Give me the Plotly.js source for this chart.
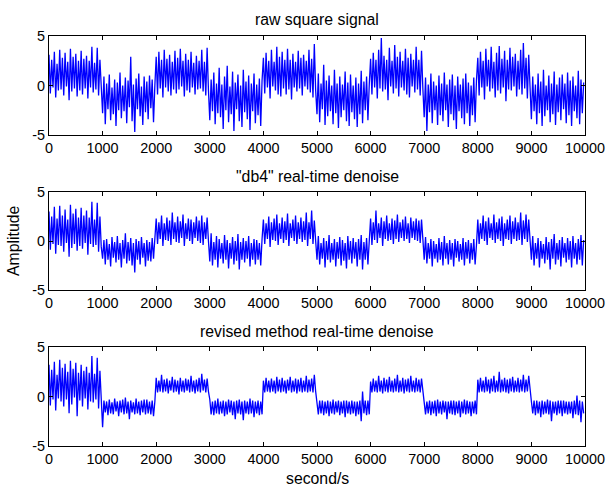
<!DOCTYPE html>
<html>
<head>
<meta charset="utf-8">
<script src="https://cdn.plot.ly/plotly-3.0.1.min.js"></script>
<style>html,body{margin:0;padding:0;background:#fff;}#chart{width:609px;height:491px;}</style>
</head>
<body>
<div id="chart"></div>
<script>
// ---- data (one sample every 25 s) ----
var sampleInterval = 25;
var xTicks = [0,1000,2000,3000,4000,5000,6000,7000,8000,9000,10000];
var yTicks = [-5,0,5];
var titles = ['raw square signal', '"db4" real-time denoise', 'revised method real-time denoise'];
var xLabel = 'second/s';
var yLabel = 'Amplitude';

var rawSignal = [
 3.1,-0.8,2.6,-0.2,3.4,-1.2,2.2,-0.5,3.6,-0.4,2.8,-1.0,3.3,-0.1,2.4,-1.5,3.7,-0.6,2.9,-0.3,3.2,-1.1,2.5,-0.5,3.5,-0.9,2.7,-0.3,3.0,-1.3,2.5,-0.2,3.9,-0.7,2.3,-0.4,3.8,-1.0,2.6,-0.6,
 -2.8,0.9,-3.9,0.2,-2.4,1.1,-3.5,-0.2,-2.9,0.6,-4.1,0.3,-2.5,1.3,-3.3,0.0,-2.6,0.8,-3.8,0.5,-2.2,2.9,-3.6,0.1,-4.7,0.7,-2.4,1.2,-3.1,-0.1,-4.0,0.9,-2.7,0.4,-3.4,1.0,-2.3,0.6,-3.7,0.0,
 2.9,-0.9,3.4,-0.3,2.6,-1.2,3.6,-0.2,2.7,-0.6,3.1,-1.0,2.4,-0.4,3.5,-0.8,2.8,-0.4,3.7,-0.1,2.5,-1.1,3.2,-0.5,2.6,-0.7,3.4,-0.2,2.3,-0.9,3.0,-0.4,2.5,-0.3,3.6,-0.6,2.4,-1.0,3.8,-0.5,
 -3.5,0.6,-2.6,1.3,-3.9,0.2,-2.8,1.8,-3.2,0.1,-4.4,0.9,-2.5,2.0,-3.7,-0.1,-2.9,1.4,-4.6,0.3,-2.4,1.1,-3.6,0.0,-4.2,1.6,-2.7,0.4,-3.4,1.0,-4.5,0.2,-2.6,1.2,-3.8,0.1,-3.0,0.7,-4.1,0.5,
 2.8,-0.8,3.3,-0.2,2.5,-1.3,3.6,-0.1,2.4,-0.5,3.9,-0.9,2.9,-1.1,3.4,-0.3,2.6,-0.9,3.7,-0.4,2.6,-1.4,3.2,-0.2,2.4,-0.6,3.5,-0.3,2.8,-1.0,3.1,-0.1,2.5,-0.4,3.6,-0.7,2.7,-1.2,4.2,-0.5,
 -2.9,1.2,-3.7,0.2,-2.4,2.1,-4.0,0.5,-3.1,1.0,-2.6,0.0,-3.9,1.6,-2.8,0.2,-4.3,0.9,-3.2,0.1,-2.5,1.4,-3.6,0.3,-4.1,1.1,-2.7,0.0,-3.4,0.8,-4.2,0.2,-2.9,1.5,-3.8,0.4,-2.5,0.9,-3.5,0.1,
 2.7,-0.9,3.3,-0.2,2.6,-1.3,3.6,-0.3,4.8,-0.6,3.0,-0.4,2.6,-1.5,3.8,-0.1,2.5,-0.8,4.1,-0.3,2.9,-1.1,3.4,-0.2,2.5,-0.5,3.7,-0.9,2.8,-1.2,3.2,-0.1,2.6,-0.7,3.9,-0.4,2.6,-1.0,3.5,-0.3,
 -3.2,0.8,-4.6,0.1,-2.7,1.2,-3.8,0.4,-2.5,0.0,-4.0,1.0,-3.0,0.2,-3.6,1.3,-2.5,0.1,-4.2,0.6,-2.9,1.1,-3.5,0.0,-4.4,0.9,-2.6,0.1,-3.3,0.7,-3.9,1.2,-2.8,0.3,-4.1,0.0,-3.0,0.8,-3.7,0.5,
 2.8,-1.0,3.4,-0.2,2.5,-1.4,3.7,-0.1,2.6,-0.6,3.9,-0.3,2.4,-1.2,3.3,-0.5,4.0,-0.8,2.7,-0.2,3.5,-1.6,2.6,-0.4,3.8,-0.5,2.9,-0.1,3.2,-1.1,2.5,-0.4,3.6,-0.9,4.3,-0.3,2.8,-1.3,3.1,-0.2,
 -3.4,0.9,-2.6,0.1,-3.9,1.2,-2.8,0.4,-4.1,1.6,-3.1,0.0,-2.5,1.0,-3.7,0.2,-2.9,1.4,-4.0,0.1,-2.7,0.8,-3.5,1.1,-2.4,0.2,-3.8,1.3,-3.0,0.5,-4.1,0.9,-2.6,0.0,-3.3,1.5,-3.9,0.6,-2.8,0.3
];

var db4Signal = [
 3.0,-0.9,2.5,-0.3,3.5,-1.3,2.3,-0.4,3.6,-0.5,2.6,-1.1,3.2,-0.2,2.2,-1.6,3.7,-0.7,2.8,-0.3,3.3,-1.0,2.4,-0.5,3.4,-0.8,2.6,-0.2,3.1,-1.4,2.4,-0.3,4.0,-0.6,2.2,-0.4,3.9,-1.1,2.5,-0.6,
 -1.8,0.1,-2.4,0.2,-1.9,-0.3,-2.6,0.4,-1.7,-0.1,-2.2,0.5,-1.9,-0.2,-2.7,0.1,-1.8,0.8,-2.3,-0.1,-2.0,0.3,-2.5,-0.2,-3.2,0.2,-1.9,0.0,-2.4,0.4,-1.7,-0.2,-2.6,0.1,-2.0,-0.1,-2.1,0.3,-1.8,0.0,
 2.3,-0.3,1.9,0.2,2.6,-0.5,1.8,0.1,2.4,0.0,2.1,-0.4,2.9,0.2,1.9,-0.1,2.5,-0.2,2.0,0.3,2.7,-0.5,1.8,0.2,2.3,0.0,2.2,-0.3,1.9,0.3,2.5,0.0,2.1,-0.2,2.6,-0.4,1.9,0.2,2.4,0.0,
 -2.1,0.8,-2.5,-0.1,-1.9,0.5,-2.7,0.2,-1.8,-0.2,-2.3,0.6,-1.9,0.1,-2.8,-0.2,-1.8,0.4,-2.4,0.0,-2.0,0.7,-2.9,-0.1,-1.9,0.3,-2.2,0.0,-1.8,0.5,-2.6,-0.2,-1.9,0.2,-2.4,0.1,-1.9,-0.2,-2.5,0.2,
 2.2,-0.3,1.8,0.2,2.5,-0.6,1.9,0.1,2.3,0.0,2.7,-0.4,1.8,0.2,2.4,-0.2,2.0,0.1,2.8,-0.5,1.8,0.3,2.2,0.0,2.6,-0.3,1.9,0.2,2.4,-0.1,2.0,0.1,2.9,-0.5,1.9,0.2,3.1,-0.3,2.1,0.0,
 -1.9,0.5,-2.4,-0.2,-1.8,0.3,-2.7,0.0,-1.9,0.6,-2.2,-0.2,-1.9,0.2,-2.6,-0.1,-1.8,0.4,-2.5,0.1,-2.0,-0.2,-2.8,0.5,-1.9,0.0,-2.3,0.3,-1.8,-0.1,-2.6,0.2,-1.9,0.6,-2.9,-0.1,-1.9,0.3,-2.4,0.0,
 2.3,-0.4,1.9,0.1,3.1,-0.2,1.8,0.3,2.4,-0.5,2.0,0.2,2.6,0.0,1.8,0.1,2.3,-0.3,2.1,0.2,2.7,-0.1,1.9,0.3,2.2,0.0,2.5,0.2,1.8,-0.2,2.4,0.3,2.0,0.1,2.3,0.0,2.1,-0.2,2.2,0.2,
 -1.9,0.4,-2.3,-0.2,-1.8,0.2,-2.6,0.0,-1.8,-0.3,-2.2,0.3,-1.9,-0.1,-2.5,0.5,-1.8,-0.2,-2.4,0.1,-1.9,-0.2,-2.6,0.2,-1.7,0.0,-2.1,-0.3,-1.9,0.3,-2.5,-0.1,-1.8,0.1,-2.3,-0.2,-1.9,0.2,-2.4,-0.4,
 2.2,-0.3,1.8,0.2,2.6,0.0,2.0,-0.4,2.4,0.3,1.8,0.1,2.7,-0.2,1.9,0.2,2.3,0.0,2.5,-0.5,1.8,0.2,2.2,0.1,2.6,-0.3,2.0,0.2,2.4,0.0,1.9,0.1,2.9,-0.4,2.1,0.2,2.7,-0.1,2.2,0.1,
 -1.9,0.5,-2.5,-0.2,-1.8,0.3,-2.7,0.0,-1.8,-0.3,-2.3,0.4,-1.9,-0.1,-2.9,0.2,-1.8,0.7,-2.4,-0.2,-1.9,0.1,-2.6,0.4,-1.7,-0.2,-2.2,0.3,-1.9,0.0,-2.7,0.5,-1.8,-0.2,-2.4,0.2,-1.9,0.6,-2.5,0.1
];

var revisedSignal = [
 3.2,-0.9,2.7,-0.3,3.5,-1.4,2.2,-0.2,3.7,-0.5,2.9,-1.0,3.3,-0.3,2.5,-1.7,3.6,-0.8,2.8,-0.1,3.4,-2.0,2.4,-0.4,3.2,-1.0,2.6,-0.2,3.0,-1.3,2.4,-0.5,4.1,-0.6,2.3,-0.3,3.9,-1.2,2.6,-0.7,
 -3.1,-0.4,-1.6,-0.5,-1.9,-0.3,-1.7,-0.6,-1.8,-0.2,-1.5,-0.5,-2.0,-0.4,-1.6,-0.3,-1.8,-0.1,-1.7,-0.5,-2.3,-0.4,-1.6,-0.6,-1.8,-0.2,-1.7,-0.5,-1.9,-0.4,-1.6,-0.3,-1.8,-0.3,-1.7,-0.5,-1.8,-0.4,-2.0,-0.5,
 1.9,0.4,1.6,0.5,2.2,0.4,1.7,0.5,1.8,0.3,1.6,0.6,2.0,0.4,1.7,0.5,1.6,0.2,1.9,0.5,1.6,0.4,1.8,0.6,1.7,0.4,2.1,0.5,1.6,0.3,1.7,0.5,1.9,0.4,2.3,0.6,1.7,0.4,1.8,0.5,
 -0.3,-1.8,-0.5,-1.9,-0.4,-1.7,-0.2,-1.8,-0.5,-1.7,-0.4,-2.0,-0.5,-1.8,-0.3,-1.6,-0.4,-1.9,-0.5,-2.3,-0.4,-1.7,-0.3,-1.8,-0.5,-2.4,-0.4,-1.7,-0.5,-1.8,-0.2,-1.7,-0.4,-2.1,-0.5,-1.7,-0.4,-1.9,-0.5,-1.8,
 1.6,0.4,1.9,0.5,1.6,0.4,1.8,0.5,1.6,0.3,2.0,0.5,1.7,0.4,1.9,0.5,1.6,0.3,1.7,0.6,2.0,0.4,1.6,0.5,1.8,0.3,1.7,0.5,1.9,0.4,1.6,0.5,2.1,0.4,1.7,0.5,1.8,0.4,2.2,0.5,
 -0.5,-1.8,-0.4,-1.7,-0.4,-1.9,-0.5,-1.7,-0.4,-2.0,-0.5,-1.7,-0.3,-1.8,-0.5,-1.6,-0.4,-1.9,-0.5,-1.7,-0.4,-2.1,-0.4,-1.7,-0.5,-1.8,-0.4,-1.7,-0.5,-2.0,-0.5,-1.8,-0.4,-2.5,0.5,-1.7,-0.4,-1.9,-0.4,-1.8,
 1.5,0.4,1.8,0.5,1.6,0.4,2.1,0.5,1.6,0.3,1.9,0.5,1.7,0.4,2.0,0.5,1.6,0.4,1.8,0.5,2.2,0.4,1.6,0.5,1.9,0.3,1.7,0.5,1.8,0.4,2.1,0.5,1.6,0.4,1.9,0.5,1.7,0.4,1.8,0.6,
 -0.4,-1.8,-0.5,-1.7,-0.4,-1.9,-0.5,-1.7,-0.4,-2.0,-0.3,-1.7,-0.5,-1.8,-0.4,-1.6,-0.5,-2.3,-0.5,-1.7,-0.4,-1.8,-0.4,-1.9,-0.5,-1.7,-0.4,-2.1,-0.5,-1.7,-0.3,-1.8,-0.4,-1.7,-0.5,-2.0,-0.5,-1.7,-0.4,-1.8,
 1.7,0.4,1.9,0.5,1.6,0.4,2.0,0.5,1.7,0.3,1.8,0.5,2.1,0.4,1.6,0.5,2.5,0.4,1.7,0.5,1.9,0.4,1.7,0.3,1.8,0.5,2.0,0.4,1.6,0.5,1.9,0.4,1.7,0.5,2.2,0.4,1.7,0.5,2.1,0.5,
 -0.5,-1.7,-0.4,-1.9,-0.4,-1.7,-0.5,-2.1,-0.4,-1.8,-0.5,-1.7,-0.3,-1.8,-0.4,-2.5,-0.5,-1.7,-0.5,-1.9,-0.4,-1.7,-0.4,-2.0,-0.4,-1.7,-0.5,-1.8,-0.5,-1.7,-0.5,-2.2,-0.4,-1.8,0.1,-1.9,-0.4,-2.6,-0.5,-1.7
];

// ---- drawing ----
function timeAxis(values) {
  return values.map(function (v, i) { return i * sampleInterval; });
}
var series = [rawSignal, db4Signal, revisedSignal];
var fontFam = 'Arial, "Liberation Sans", sans-serif';
var traces = series.map(function (vals, k) {
  return {
    type: 'scatter', mode: 'lines',
    x: timeAxis(vals), y: vals,
    xaxis: k === 0 ? 'x' : 'x' + (k + 1),
    yaxis: k === 0 ? 'y' : 'y' + (k + 1),
    line: { color: '#0000ff', width: 1.3 },
    hoverinfo: 'skip', showlegend: false
  };
});

var H = 410;
function py(pix) { return (446 - pix) / H; }
var domains = [[py(135), py(36)], [py(290), py(192)], [py(446), py(347)]];

function xAx(d) {
  return {
    domain: [0, 1], anchor: d, range: [0, 10000], tickvals: xTicks,
    ticktext: xTicks.map(String),
    ticks: 'inside', ticklen: 4, tickcolor: '#000', showline: true, mirror: 'ticks',
    linecolor: '#000', linewidth: 1, showgrid: false, zeroline: false,
    tickfont: { family: fontFam, size: 14.4, color: '#000' }, fixedrange: true
  };
}
function yAx(a, dom) {
  return {
    domain: dom, anchor: a, range: [-5, 5], tickvals: yTicks,
    ticktext: yTicks.map(String),
    ticks: 'inside', ticklen: 4, tickcolor: '#000', showline: true, mirror: 'ticks',
    linecolor: '#000', linewidth: 1, showgrid: false, zeroline: false,
    tickfont: { family: fontFam, size: 14.4, color: '#000' }, fixedrange: true
  };
}

var layout = {
  width: 609, height: 491,
  margin: { l: 49, r: 24, t: 36, b: 45 },
  paper_bgcolor: '#fff', plot_bgcolor: '#fff',
  showlegend: false,
  xaxis: xAx('y'), xaxis2: xAx('y2'), xaxis3: xAx('y3'),
  yaxis: yAx('x', domains[0]), yaxis2: yAx('x2', domains[1]), yaxis3: yAx('x3', domains[2]),
  annotations: [
    { text: titles[0], xref: 'paper', yref: 'paper', x: 0.5, y: py(20), showarrow: false, xanchor: 'center', yanchor: 'middle', font: { family: fontFam, size: 15.8, color: '#000' } },
    { text: titles[1], xref: 'paper', yref: 'paper', x: 0.5, y: py(176), showarrow: false, xanchor: 'center', yanchor: 'middle', font: { family: fontFam, size: 15.8, color: '#000' } },
    { text: titles[2], xref: 'paper', yref: 'paper', x: 0.5, y: py(331), showarrow: false, xanchor: 'center', yanchor: 'middle', font: { family: fontFam, size: 15.8, color: '#000' } },
    { text: xLabel, xref: 'paper', yref: 'paper', x: 0.5, y: py(478), showarrow: false, xanchor: 'center', yanchor: 'middle', font: { family: fontFam, size: 15.8, color: '#000' } },
    { text: yLabel, xref: 'paper', yref: 'paper', x: (13 - 49) / 536, y: py(241), showarrow: false, xanchor: 'center', yanchor: 'middle', textangle: -90, font: { family: fontFam, size: 15.8, color: '#000' } }
  ]
};

Plotly.newPlot('chart', traces, layout, { staticPlot: true, displayModeBar: false });
</script>
</body>
</html>
